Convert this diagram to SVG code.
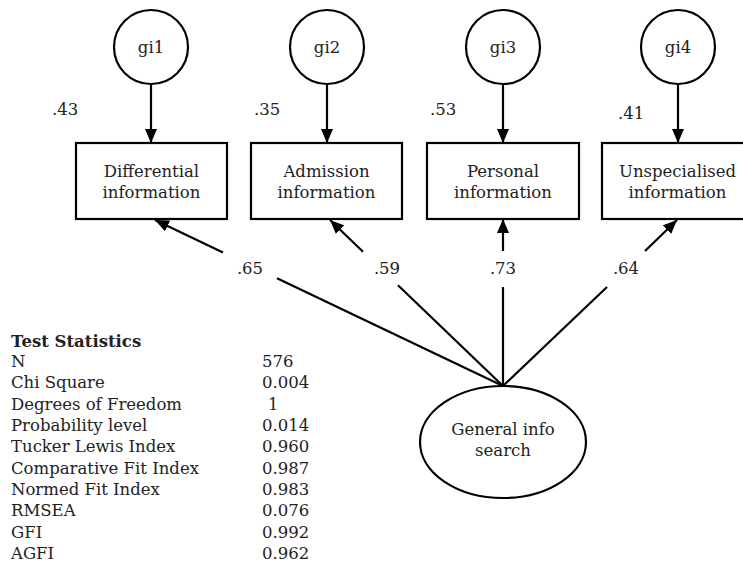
<svg xmlns="http://www.w3.org/2000/svg" width="743" height="568" viewBox="0 0 743 568">
  <style>
    text { font-family: "DejaVu Serif", "Liberation Serif", serif; font-size: 16.5px; fill: #222; }
    .c { text-anchor: middle; }
    .b { font-weight: bold; }
    .shape { fill: #fff; stroke: #000; stroke-width: 2.2; }
    .edge { fill: none; stroke: #000; stroke-width: 2.2; }
  </style>
  <defs>
    <marker id="arrow" viewBox="0 0 14 12" refX="14" refY="6" markerWidth="14" markerHeight="12" markerUnits="userSpaceOnUse" orient="auto">
      <path d="M0,0 L14,6 L0,12 Z" fill="#000"/>
    </marker>
  </defs>

  <!-- error terms -->
  <g id="gi1"><circle class="shape" cx="151" cy="47" r="37"/><text class="c" x="151" y="53">gi1</text></g>
  <g id="gi2"><circle class="shape" cx="327" cy="47" r="37"/><text class="c" x="327" y="53">gi2</text></g>
  <g id="gi3"><circle class="shape" cx="503" cy="47" r="37"/><text class="c" x="503" y="53">gi3</text></g>
  <g id="gi4"><circle class="shape" cx="678" cy="47" r="37"/><text class="c" x="678" y="53">gi4</text></g>

  <!-- observed indicators -->
  <g id="differential"><rect class="shape" x="76" y="143" width="151" height="76"/>
    <text class="c" x="151.5" y="177">Differential</text><text class="c" x="151.5" y="198">information</text></g>
  <g id="admission"><rect class="shape" x="251" y="143" width="151" height="76"/>
    <text class="c" x="326.5" y="177">Admission</text><text class="c" x="326.5" y="198">information</text></g>
  <g id="personal"><rect class="shape" x="427" y="143" width="152" height="76"/>
    <text class="c" x="503" y="177">Personal</text><text class="c" x="503" y="198">information</text></g>
  <g id="unspecialised"><rect class="shape" x="602" y="143" width="151" height="76"/>
    <text class="c" x="677.5" y="177">Unspecialised</text><text class="c" x="677.5" y="198">information</text></g>

  <!-- latent factor -->
  <g id="general"><ellipse class="shape" cx="503" cy="442" rx="83" ry="56"/>
    <text class="c" x="503" y="435">General info</text><text class="c" x="503" y="456">search</text></g>

  <!-- paths -->
  <g id="connectors">
    <line class="edge" x1="151" y1="84" x2="151" y2="143" marker-end="url(#arrow)"/>
    <line class="edge" x1="327" y1="84" x2="327" y2="143" marker-end="url(#arrow)"/>
    <line class="edge" x1="503" y1="84" x2="503" y2="143" marker-end="url(#arrow)"/>
    <line class="edge" x1="678" y1="84" x2="678" y2="143" marker-end="url(#arrow)"/>

    <line class="edge" x1="277" y1="278.2" x2="503" y2="386"/>
    <line class="edge" x1="223" y1="252.4" x2="155" y2="220" marker-end="url(#arrow)"/>
    <line class="edge" x1="398" y1="285.3" x2="503" y2="386"/>
    <line class="edge" x1="363" y1="251.7" x2="330" y2="220" marker-end="url(#arrow)"/>
    <line class="edge" x1="503" y1="287" x2="503" y2="386"/>
    <line class="edge" x1="503" y1="251" x2="503" y2="219" marker-end="url(#arrow)"/>
    <line class="edge" x1="607" y1="287" x2="503" y2="386"/>
    <line class="edge" x1="645" y1="251" x2="677" y2="220" marker-end="url(#arrow)"/>
  </g>

  <!-- coefficients -->
  <g id="labels">
    <text x="52" y="115">.43</text>
    <text x="254" y="115">.35</text>
    <text x="430" y="115">.53</text>
    <text x="618" y="119">.41</text>
    <text class="c" x="250" y="274">.65</text>
    <text class="c" x="387" y="274">.59</text>
    <text class="c" x="503" y="274">.73</text>
    <text class="c" x="626" y="274">.64</text>
  </g>

  <!-- fit statistics -->
  <g id="stats">
    <text class="b" x="11" y="347">Test Statistics</text>
    <text x="11" y="367">N</text><text x="262" y="367">576</text>
    <text x="11" y="388">Chi Square</text><text x="262" y="388">0.004</text>
    <text x="11" y="410">Degrees of Freedom</text><text x="268" y="410">1</text>
    <text x="11" y="431">Probability level</text><text x="262" y="431">0.014</text>
    <text x="11" y="452">Tucker Lewis Index</text><text x="262" y="452">0.960</text>
    <text x="11" y="474">Comparative Fit Index</text><text x="262" y="474">0.987</text>
    <text x="11" y="495">Normed Fit Index</text><text x="262" y="495">0.983</text>
    <text x="11" y="516">RMSEA</text><text x="262" y="516">0.076</text>
    <text x="11" y="538">GFI</text><text x="262" y="538">0.992</text>
    <text x="11" y="559">AGFI</text><text x="262" y="559">0.962</text>
  </g>
</svg>
